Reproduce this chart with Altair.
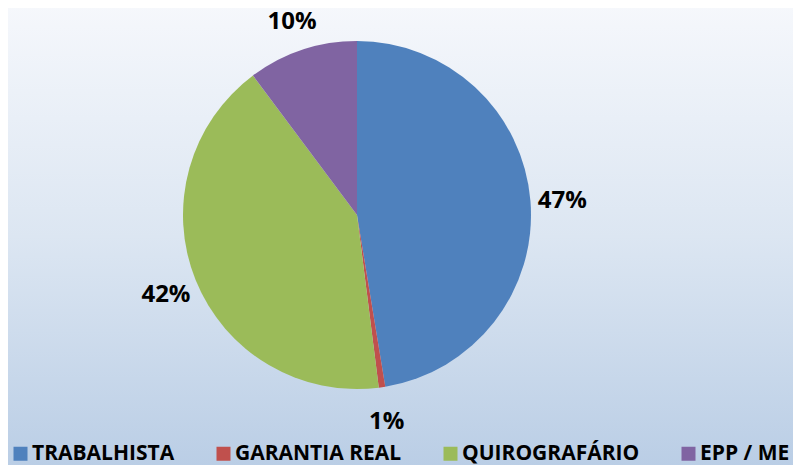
import altair as alt
import pandas as pd

categories = ["TRABALHISTA", "GARANTIA REAL", "QUIROGRAFÁRIO", "EPP / ME"]
values = [47.4, 0.6, 41.8, 10.2]
colors = ["#4F81BD", "#C0504D", "#9BBB59", "#8064A2"]

df = pd.DataFrame({"cat": categories, "val": values, "idx": list(range(len(categories)))})
df["pct"] = df["val"] / df["val"].sum()

W, H = 785, 457
CX, CY = 349, 207

bg = alt.Chart(pd.DataFrame({"a": [0]})).mark_rect(
    color=alt.LinearGradient(
        gradient="linear", x1=0, y1=0, x2=0, y2=1,
        stops=[alt.GradientStop(color="#F6F8FC", offset=0),
               alt.GradientStop(color="#DCE6F2", offset=0.5),
               alt.GradientStop(color="#B9CDE5", offset=1)]
    )
).encode(x=alt.value(-8), x2=alt.value(W + 8), y=alt.value(-8), y2=alt.value(H + 8))

base = alt.Chart(df).encode(
    theta=alt.Theta("val:Q", stack=True),
    order=alt.Order("idx:Q"),
    x=alt.value(CX), y=alt.value(CY),
)

pie = base.mark_arc(radius=174).encode(
    color=alt.Color("cat:N", sort=categories,
                    scale=alt.Scale(domain=categories, range=colors),
                    legend=alt.Legend(title=None, orient="none", legendX=2, legendY=435,
                                      direction="horizontal", symbolType="square",
                                      symbolSize=196, symbolStrokeWidth=0, symbolOpacity=1,
                                      labelFont="Open Sans", labelFontWeight="bold",
                                      labelFontSize=21, labelColor="#000000",
                                      labelOffset=1, columnPadding=38, labelLimit=0,
                                      padding=0))
)

labels = base.mark_text(radius=206, dy=3, font="Open Sans", fontWeight="bold", fontSize=24,
                        color="#000000").encode(
    text=alt.Text("pct:Q", format=".0%")
)

chart = alt.layer(bg, pie, labels).properties(
    width=W, height=H, padding=0,
    autosize=alt.AutoSizeParams(type="none")
).configure_view(stroke=None)

chart.save("out.html", embed_options={"renderer": "svg", "actions": False})
